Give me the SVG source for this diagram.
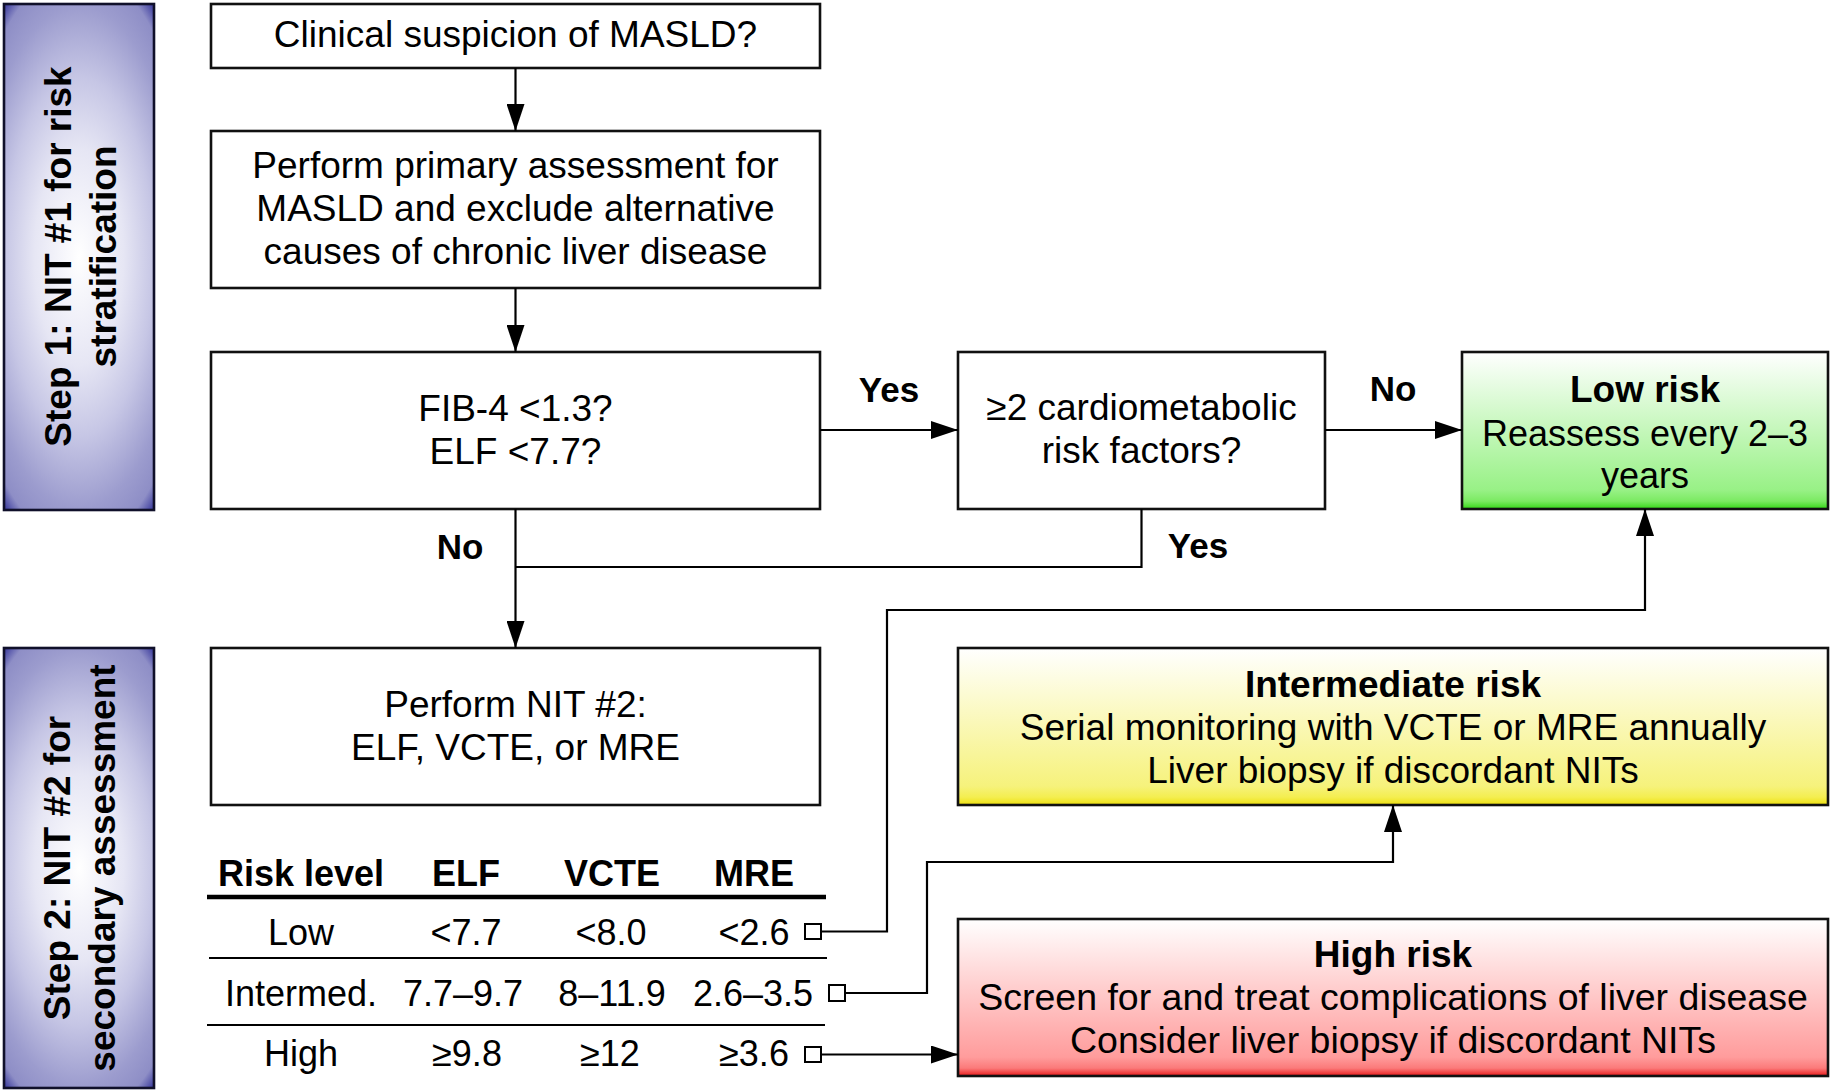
<svg xmlns="http://www.w3.org/2000/svg" width="1830" height="1091" viewBox="0 0 1830 1091">
  <defs>
    <radialGradient id="gSide" cx="0.5" cy="0.5" r="0.71" gradientUnits="objectBoundingBox" gradientTransform="translate(0.5 0.5) scale(1.4 1) translate(-0.5 -0.5)">
      <stop offset="0" stop-color="#ffffff"/>
      <stop offset="0.3" stop-color="#e6e6f4"/>
      <stop offset="0.5" stop-color="#c6c6e5"/>
      <stop offset="0.7" stop-color="#9c9cce"/>
      <stop offset="0.8" stop-color="#8e8ec6"/>
      <stop offset="0.87" stop-color="#2e2e96"/>
      <stop offset="1" stop-color="#1c1c8a"/>
    </radialGradient>
    <linearGradient id="gGreen" x1="0" y1="0" x2="0" y2="1">
      <stop offset="0" stop-color="#ffffff"/>
      <stop offset="0.88" stop-color="#98f186"/>
      <stop offset="0.95" stop-color="#7bea62"/>
      <stop offset="1" stop-color="#33d815"/>
    </linearGradient>
    <linearGradient id="gYellow" x1="0" y1="0" x2="0" y2="1">
      <stop offset="0" stop-color="#ffffff"/>
      <stop offset="0.88" stop-color="#f6f27c"/>
      <stop offset="0.95" stop-color="#f4ee50"/>
      <stop offset="1" stop-color="#eee010"/>
    </linearGradient>
    <linearGradient id="gRed" x1="0" y1="0" x2="0" y2="1">
      <stop offset="0" stop-color="#ffffff"/>
      <stop offset="0.88" stop-color="#ff9c9c"/>
      <stop offset="0.95" stop-color="#fb7a7a"/>
      <stop offset="1" stop-color="#e81a1a"/>
    </linearGradient>
    <marker id="arr" markerUnits="userSpaceOnUse" markerWidth="28" markerHeight="18" refX="27" refY="9" orient="auto">
      <path d="M0,0 L27,9 L0,18 Z" fill="#000"/>
    </marker>
  </defs>
  <style>
    .box { fill: #ffffff; stroke: #111111; stroke-width: 2.6; }
    .side { fill: url(#gSide); stroke: #10102a; stroke-width: 2.6; }
    .t { font-family: "Liberation Sans", Arial, sans-serif; font-size: 37px; fill: #000; text-anchor: middle; }
    .b { font-weight: bold; }
    .st { font-family: "Liberation Sans", Arial, sans-serif; font-size: 37px; font-weight: bold; fill: #000; text-anchor: middle; }
    .lbl { font-family: "Liberation Sans", Arial, sans-serif; font-size: 35px; font-weight: bold; fill: #000; text-anchor: middle; }
    .tb { font-family: "Liberation Sans", Arial, sans-serif; font-size: 36px; fill: #000; text-anchor: middle; }
    .conn { fill: none; stroke: #000; stroke-width: 2.2; }
    .arrow { marker-end: url(#arr); }
    .sq { fill: #ffffff; stroke: #000; stroke-width: 2; }
    .rule { stroke: #000; stroke-width: 2.2; }
  </style>

  <g id="step1">
    <rect class="side" x="4" y="4" width="150" height="506"/>
    <g transform="translate(0,256.5) rotate(-90)">
      <text class="st" x="0" y="71">Step 1: NIT #1 for risk</text>
      <text class="st" x="0" y="116">stratification</text>
    </g>
  </g>

  <g id="step2">
    <rect class="side" x="4" y="648" width="150" height="440"/>
    <g transform="translate(0,868) rotate(-90)">
      <text class="st" x="0" y="70">Step 2: NIT #2 for</text>
      <text class="st" x="0" y="115">secondary assessment</text>
    </g>
  </g>

  <g id="clinical">
    <rect class="box" x="211" y="4" width="609" height="64"/>
    <text class="t" x="515.5" y="47">Clinical suspicion of MASLD?</text>
  </g>

  <g id="primary">
    <rect class="box" x="211" y="131" width="609" height="157"/>
    <text class="t" x="515.5" y="178">Perform primary assessment for</text>
    <text class="t" x="515.5" y="221">MASLD and exclude alternative</text>
    <text class="t" x="515.5" y="264">causes of chronic liver disease</text>
  </g>

  <g id="fib4">
    <rect class="box" x="211" y="352" width="609" height="157"/>
    <text class="t" x="515.5" y="421">FIB-4 &lt;1.3?</text>
    <text class="t" x="515.5" y="464">ELF &lt;7.7?</text>
  </g>

  <g id="cardio">
    <rect class="box" x="958" y="352" width="367" height="157"/>
    <text class="t" x="1141.5" y="420">≥2 cardiometabolic</text>
    <text class="t" x="1141.5" y="463">risk factors?</text>
  </g>

  <g id="lowrisk">
    <rect class="box" x="1462" y="352" width="366" height="157" style="fill:url(#gGreen)"/>
    <text class="t b" x="1645" y="402">Low risk</text>
    <text class="t" x="1645" y="446" style="font-size:36px">Reassess every 2–3</text>
    <text class="t" x="1645" y="488" style="font-size:36px">years</text>
  </g>

  <g id="nit2">
    <rect class="box" x="211" y="648" width="609" height="157"/>
    <text class="t" x="515.5" y="717">Perform NIT #2:</text>
    <text class="t" x="515.5" y="760">ELF, VCTE, or MRE</text>
  </g>

  <g id="intermediate">
    <rect class="box" x="958" y="648" width="870" height="157" style="fill:url(#gYellow)"/>
    <text class="t b" x="1393" y="697">Intermediate risk</text>
    <text class="t" x="1393" y="740">Serial monitoring with VCTE or MRE annually</text>
    <text class="t" x="1393" y="783">Liver biopsy if discordant NITs</text>
  </g>

  <g id="highrisk">
    <rect class="box" x="958" y="919" width="870" height="157" style="fill:url(#gRed)"/>
    <text class="t b" x="1393" y="967">High risk</text>
    <text class="t" x="1393" y="1010" style="font-size:37.5px">Screen for and treat complications of liver disease</text>
    <text class="t" x="1393" y="1053" style="font-size:37.5px">Consider liver biopsy if discordant NITs</text>
  </g>

  <g id="table">
    <text class="tb b" x="301" y="886">Risk level</text>
    <text class="tb b" x="466" y="886">ELF</text>
    <text class="tb b" x="612" y="886">VCTE</text>
    <text class="tb b" x="754" y="886">MRE</text>
    <line x1="207" y1="897" x2="826" y2="897" stroke="#000" stroke-width="4.5"/>
    <text class="tb" x="301" y="945">Low</text>
    <text class="tb" x="466" y="945">&lt;7.7</text>
    <text class="tb" x="611" y="945">&lt;8.0</text>
    <text class="tb" x="754" y="945">&lt;2.6</text>
    <rect class="sq" x="805" y="924" width="16" height="15"/>
    <line class="rule" x1="209" y1="958" x2="827" y2="958"/>
    <text class="tb" x="301" y="1006">Intermed.</text>
    <text class="tb" x="463" y="1006">7.7–9.7</text>
    <text class="tb" x="612" y="1006">8–11.9</text>
    <text class="tb" x="753" y="1006">2.6–3.5</text>
    <rect class="sq" x="829" y="985" width="16" height="16"/>
    <line class="rule" x1="207" y1="1025" x2="825" y2="1025"/>
    <text class="tb" x="301" y="1066">High</text>
    <text class="tb" x="467" y="1066">≥9.8</text>
    <text class="tb" x="610" y="1066">≥12</text>
    <text class="tb" x="754" y="1066">≥3.6</text>
    <rect class="sq" x="805" y="1047" width="16" height="15"/>
  </g>

  <g id="connectors">
    <path class="conn arrow" d="M515.5 68 V131"/>
    <path class="conn arrow" d="M515.5 288 V352"/>
    <path class="conn arrow" d="M820 430 H958"/>
    <path class="conn arrow" d="M1325 430 H1462"/>
    <path class="conn arrow" d="M515.5 509 V648"/>
    <path class="conn" d="M1141.5 509 V567 H515.5"/>
    <path class="conn arrow" d="M821 931.5 H887 V610 H1645 V509"/>
    <path class="conn arrow" d="M845 993 H927 V862 H1393 V805"/>
    <path class="conn arrow" d="M821 1054.5 H958"/>
    <text class="lbl" x="889" y="402">Yes</text>
    <text class="lbl" x="1393" y="401">No</text>
    <text class="lbl" x="460" y="559">No</text>
    <text class="lbl" x="1198" y="558">Yes</text>
  </g>
</svg>
